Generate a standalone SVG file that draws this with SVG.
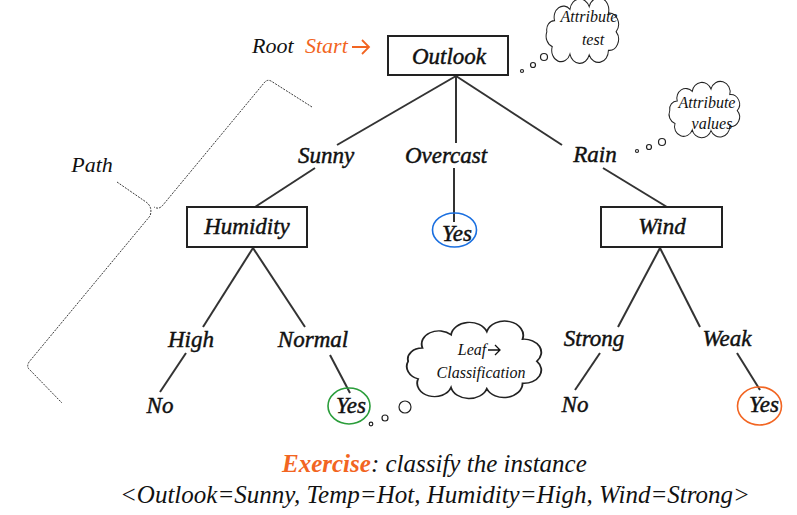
<svg xmlns="http://www.w3.org/2000/svg" width="797" height="515" viewBox="0 0 797 515">
<defs>
<style>
text{font-family:"Liberation Serif","DejaVu Serif",serif;font-style:italic;fill:#111}
.n{font-size:23px;text-anchor:middle;stroke:#111;stroke-width:0.45}
.t{font-size:16px;text-anchor:middle}
.box{fill:#fff;stroke:#222;stroke-width:2}
.e{stroke:#333;stroke-width:2;fill:none}
.cloud{fill:#fff;stroke:#222;stroke-width:1.3}
.bub{fill:#fff;stroke:#222;stroke-width:1.2}
.or{fill:#f26522}
.arw{fill:none;stroke:#f26522;stroke-width:1.8}
</style>
<path id="cl" d="M15,20 A12,12 0 0 1 35,8 A13,13 0 0 1 60,5 A12,12 0 0 1 85,12 A12,12 0 0 1 95,32 A12,12 0 0 1 85,52 A13,13 0 0 1 60,57 A13,13 0 0 1 35,56 A12,12 0 0 1 12,48 A12,12 0 0 1 5,32 A10,10 0 0 1 15,20 Z"/>
</defs>
<rect width="797" height="515" fill="#fff"/>

<g id="connectors">
<line class="e" x1="456" y1="76" x2="337" y2="145"/>
<line class="e" x1="456" y1="76" x2="456" y2="143"/>
<line class="e" x1="456" y1="76" x2="562" y2="145"/>
<line class="e" x1="315" y1="168" x2="255" y2="207"/>
<line class="e" x1="454" y1="168" x2="454" y2="222"/>
<line class="e" x1="603" y1="168" x2="667" y2="207"/>
<line class="e" x1="253" y1="248" x2="203" y2="327"/>
<line class="e" x1="253" y1="248" x2="305" y2="327"/>
<line class="e" x1="186" y1="353" x2="160" y2="392"/>
<line class="e" x1="330" y1="355" x2="350" y2="393"/>
<line class="e" x1="660" y1="248" x2="618" y2="327"/>
<line class="e" x1="660" y1="248" x2="700" y2="327"/>
<line class="e" x1="600" y1="353" x2="575" y2="390"/>
<line class="e" x1="737" y1="353" x2="760" y2="390"/>
</g>

<g id="root-label">
<text x="252" y="53" style="font-size:22px">Root</text>
<text x="305" y="53" class="or" style="font-size:22px">Start</text>
<path class="arw" d="M352,47 H369 M362,40 L369,47 L362,54"/>
</g>

<g id="outlook">
<rect class="box" x="388" y="36" width="120" height="39"/>
<text class="n" x="449" y="64">Outlook</text>
</g>

<g id="sunny"><text class="n" x="326" y="163">Sunny</text></g>
<g id="overcast"><text class="n" x="446" y="163">Overcast</text></g>
<g id="rain"><text class="n" x="595" y="162">Rain</text></g>

<g id="humidity">
<rect class="box" x="187" y="207" width="120" height="40"/>
<text class="n" x="247" y="234">Humidity</text>
</g>

<g id="yes-overcast">
<ellipse cx="454.5" cy="230" rx="22" ry="17" fill="none" stroke="#1a6fe0" stroke-width="1.6"/>
<text class="n" x="457" y="241">Yes</text>
</g>

<g id="wind">
<rect class="box" x="601" y="207" width="121" height="40"/>
<text class="n" x="662" y="234">Wind</text>
</g>

<g id="high"><text class="n" x="191" y="347">High</text></g>
<g id="normal"><text class="n" x="313" y="347">Normal</text></g>
<g id="strong"><text class="n" x="594" y="346">Strong</text></g>
<g id="weak"><text class="n" x="727" y="346">Weak</text></g>

<g id="no-high"><text class="n" x="160" y="413">No</text></g>
<g id="yes-normal">
<ellipse cx="349" cy="406" rx="21" ry="18" fill="none" stroke="#2a9d3a" stroke-width="1.6"/>
<text class="n" x="351" y="413">Yes</text>
</g>
<g id="no-strong"><text class="n" x="575" y="412">No</text></g>
<g id="yes-weak">
<ellipse cx="759.5" cy="406" rx="22" ry="19" fill="none" stroke="#f26522" stroke-width="1.6"/>
<text class="n" x="764" y="412">Yes</text>
</g>

<g id="path-brace">
<path d="M312,107 L271,81 Q267,79 264,83 L163,205 Q159,210 154,207 M117,182 L146,202 Q153,207 150,216 L29,362 Q26,367 30,370 L62,403" fill="none" stroke="#222" stroke-width="0.9" stroke-dasharray="2,1.2"/>
<text x="92" y="172" style="font-size:22px;text-anchor:middle">Path</text>
</g>

<g id="bubble-test">
<circle class="bub" cx="522" cy="71" r="1.5"/>
<circle class="bub" cx="533" cy="65" r="2.5"/>
<circle class="bub" cx="544" cy="57" r="3.5"/>
<use href="#cl" class="cloud" transform="translate(543,2) scale(0.77,0.93)" style="vector-effect:non-scaling-stroke"/>
<text class="t" x="589" y="22">Attribute</text>
<text class="t" x="593" y="45">test</text>
</g>

<g id="bubble-values">
<circle class="bub" cx="637" cy="151" r="1.5"/>
<circle class="bub" cx="649" cy="147" r="2.5"/>
<circle class="bub" cx="662" cy="142" r="3.5"/>
<use href="#cl" class="cloud" transform="translate(666,85) scale(0.75,0.8)" style="vector-effect:non-scaling-stroke"/>
<text class="t" x="707" y="108">Attribute</text>
<text class="t" x="712" y="129">values</text>
</g>

<g id="bubble-leaf">
<circle class="bub" cx="371" cy="424" r="1.8"/>
<circle class="bub" cx="385" cy="418" r="3"/>
<circle class="bub" cx="405" cy="407" r="6"/>
<use href="#cl" class="cloud" transform="translate(401,326) scale(1.43,1.1)" style="vector-effect:non-scaling-stroke"/>
<text class="t" x="472" y="355">Leaf</text>
<path d="M488,350 H500 M495,345 L500,350 L495,355" fill="none" stroke="#111" stroke-width="1.3"/>
<text class="t" x="481" y="378">Classification</text>
</g>

<g id="exercise">
<text x="282" y="472" style="font-size:25px"><tspan class="or" style="font-weight:bold">Exercise</tspan>: classify the instance</text>
<text x="120" y="503" style="font-size:25px">&lt;Outlook=Sunny, Temp=Hot, Humidity=High, Wind=Strong&gt;</text>
</g>
</svg>
